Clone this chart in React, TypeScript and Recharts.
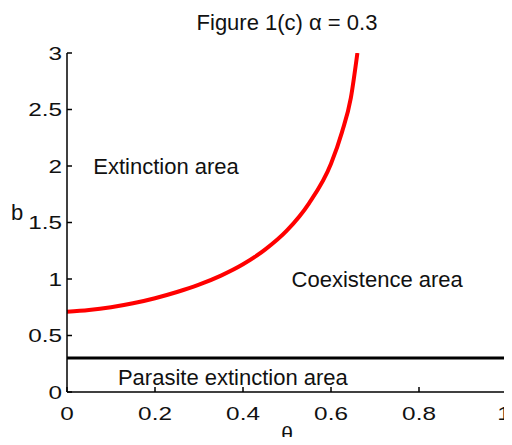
import React from 'react';
import { LineChart, Line, XAxis, YAxis, ReferenceLine, ReferenceDot } from 'recharts';

// red boundary curve
const thetaValues = [0, 0.05, 0.1, 0.15, 0.2, 0.25, 0.3, 0.35, 0.4, 0.45, 0.5, 0.55, 0.6, 0.625, 0.645, 0.66];
const bValues = [0.71, 0.725, 0.75, 0.785, 0.83, 0.885, 0.95, 1.03, 1.13, 1.26, 1.43, 1.67, 2.02, 2.3, 2.6, 3.0];

const parasiteThreshold = 0.3;

const xTicks = [0, 0.2, 0.4, 0.6, 0.8, 1];
const yTicks = [0, 0.5, 1, 1.5, 2, 2.5, 3];

const areaLabels = [
  { text: 'Extinction area', theta: 0.225, b: 2.0 },
  { text: 'Coexistence area', theta: 0.705, b: 1.0 },
  { text: 'Parasite extinction area', theta: 0.377, b: 0.13 },
];

const chartData = thetaValues.map((t, i) => ({ theta: t, b: bValues[i] }));

const FONT = '"Liberation Sans", Arial, Helvetica, sans-serif';

const XTick = (props: any) => {
  const { x, y, payload } = props;
  // keep the last label inside the window
  const tx = payload.value === 1 ? x - 3 : x;
  return (
    <g>
      <line x1={x} x2={x} y1={y} y2={y - 5} stroke="#000" strokeWidth={1.5} />
      <text
        transform={`translate(${tx},${y + 28}) scale(1.28,1)`}
        textAnchor="middle"
        fontSize={19}
        fontFamily={FONT}
        fill="#111"
      >
        {String(payload.value)}
      </text>
    </g>
  );
};

const YTick = (props: any) => {
  const { x, y, payload } = props;
  return (
    <g>
      <line x1={x} x2={x + 5} y1={y} y2={y} stroke="#000" strokeWidth={1.5} />
      <text
        transform={`translate(${x - 5},${y + 6.5}) scale(1.28,1)`}
        textAnchor="end"
        fontSize={19}
        fontFamily={FONT}
        fill="#111"
      >
        {String(payload.value)}
      </text>
    </g>
  );
};

export default function App() {
  return (
    <div style={{ position: 'relative', width: 512, height: 445, margin: -8, background: '#fff', fontFamily: FONT }}>
      <LineChart width={512} height={445} data={chartData} margin={{ top: 53, right: 5, left: 0, bottom: 0 }}>
        <XAxis
          dataKey="theta"
          type="number"
          domain={[0, 1]}
          ticks={xTicks}
          height={53}
          tickSize={0}
          tickMargin={0}
          tickLine={false}
          axisLine={{ stroke: '#000', strokeWidth: 1.5 }}
          tick={<XTick />}
          interval={0}
        />
        <YAxis
          type="number"
          domain={[0, 3]}
          ticks={yTicks}
          width={67}
          tickSize={0}
          tickMargin={0}
          tickLine={false}
          axisLine={{ stroke: '#000', strokeWidth: 1.5 }}
          tick={<YTick />}
          interval={0}
          allowDataOverflow
        />
        <ReferenceLine y={parasiteThreshold} stroke="#000" strokeWidth={3} />
        <Line
          dataKey="b"
          type="monotone"
          stroke="#ff0000"
          strokeWidth={4}
          dot={false}
          isAnimationActive={false}
        />
        {areaLabels.map((a) => (
          <ReferenceDot
            key={a.text}
            x={a.theta}
            y={a.b}
            r={0}
            fill="none"
            stroke="none"
            label={{ value: a.text, position: 'center', fontSize: 22, fontFamily: FONT, fill: '#111' }}
          />
        ))}
      </LineChart>
      <div style={{ position: 'absolute', left: 0, width: 574, top: 10, textAlign: 'center', fontSize: 22, color: '#111' }}>
        Figure 1(c) α = 0.3
      </div>
      <div style={{ position: 'absolute', left: 11, top: 200, fontSize: 22, color: '#111' }}>b</div>
      <div style={{ position: 'absolute', left: 0, width: 574, top: 422, textAlign: 'center', fontSize: 21, color: '#111' }}>θ</div>
    </div>
  );
}
